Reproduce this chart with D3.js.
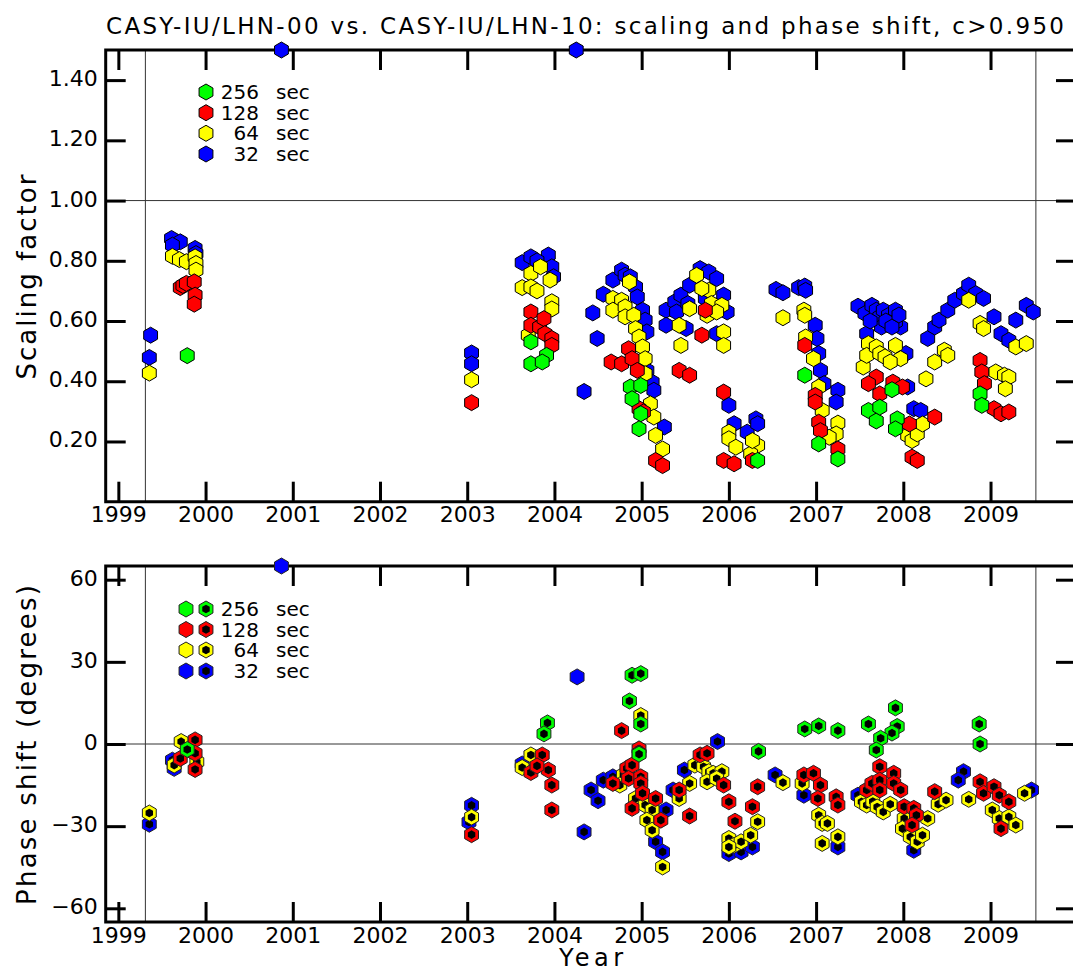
<!DOCTYPE html>
<html>

<head>
    <meta charset="utf-8">
    <title>CASY-IU/LHN-00 vs. CASY-IU/LHN-10</title>
    <script src="https://d3js.org/d3.v7.min.js"></script>
    <style>
        body {
            margin: 0;
            background-color: #ffffff;
        }

        text {
            font-family: "DejaVu Sans", sans-serif;
            fill: #000;
        }

        .tick line {
            stroke: #000;
            stroke-width: 3px;
        }
    </style>
</head>

<body>
    <div id="chart"></div>
    <script>

        // ---- data: [decimal year, value] ----
        var years = [1999, 2000, 2001, 2002, 2003, 2004, 2005, 2006, 2007, 2008, 2009];
        var scaleTicks = [0.2, 0.4, 0.6, 0.8, 1.0, 1.2, 1.4];
        var phaseTicks = [-60, -30, 0, 30, 60];
        var legendLabels = ["256", "128", "64", "32"];
        var legendColors = ["#00ff00", "#ff0000", "#ffff00", "#0000ff"];
        var spanStart = 1999.31, spanEnd = 2009.52;

        var scale32 = [[1999.37, 0.553], [1999.355, 0.479],
        [1999.61, 0.874], [1999.71, 0.863], [1999.62, 0.852], [1999.88, 0.841], [1999.89, 0.824],
        [2000.87, 1.5],
        [2003.05, 0.494], [2003.05, 0.458],
        [2003.63, 0.794], [2003.73, 0.813], [2003.93, 0.819], [2003.97, 0.78], [2003.99, 0.747], [2003.80, 0.80],
        [2004.25, 1.5],
        [2004.44, 0.627], [2004.49, 0.542], [2004.34, 0.366],
        [2004.56, 0.689], [2004.67, 0.736], [2004.77, 0.769], [2004.81, 0.752], [2004.87, 0.747], [2004.93, 0.713], [2004.95, 0.680], [2005.01, 0.636], [2005.04, 0.603], [2005.06, 0.564], [2005.06, 0.436], [2005.12, 0.397], [2005.14, 0.370], [2005.26, 0.248],
        [2005.28, 0.636], [2005.38, 0.664], [2005.40, 0.630], [2005.45, 0.686], [2005.53, 0.658], [2005.55, 0.719], [2005.67, 0.774], [2005.73, 0.675], [2005.77, 0.763], [2005.86, 0.741], [2005.28, 0.586], [2005.51, 0.575], [2005.86, 0.558], [2005.94, 0.686], [2005.98, 0.630],
        [2006.0, 0.320], [2006.06, 0.259], [2006.21, 0.231], [2006.31, 0.275], [2006.33, 0.259],
        [2006.54, 0.705], [2006.62, 0.694], [2006.80, 0.711], [2006.87, 0.716], [2006.88, 0.702], [2006.99, 0.586], [2007.01, 0.542], [2007.03, 0.492], [2007.05, 0.436], [2007.09, 0.392], [2007.25, 0.370], [2007.23, 0.331],
        [2007.48, 0.649], [2007.56, 0.625], [2007.64, 0.652], [2007.69, 0.636], [2007.73, 0.614], [2007.77, 0.636], [2007.83, 0.619], [2007.91, 0.636], [2007.97, 0.580], [2007.91, 0.597], [2007.58, 0.558], [2007.75, 0.580], [2007.62, 0.60], [2007.80, 0.60], [2007.87, 0.58], [2007.95, 0.62],
        [2008.03, 0.492], [2008.05, 0.381], [2008.12, 0.309], [2008.20, 0.303],
        [2008.28, 0.542], [2008.36, 0.580], [2008.41, 0.603], [2008.51, 0.636], [2008.59, 0.669], [2008.69, 0.691], [2008.75, 0.719], [2008.83, 0.691], [2008.92, 0.675], [2009.04, 0.614], [2009.12, 0.558], [2009.21, 0.536], [2009.29, 0.603], [2009.41, 0.652], [2009.49, 0.630]];

        var scale64 = [[1999.355, 0.427],
        [1999.62, 0.815], [1999.70, 0.804], [1999.78, 0.797], [1999.88, 0.813], [1999.89, 0.791], [1999.89, 0.769],
        [2003.05, 0.405],
        [2003.73, 0.758], [2003.63, 0.711], [2003.73, 0.713], [2003.70, 0.553], [2003.84, 0.78], [2003.95, 0.736], [2003.97, 0.664], [2003.97, 0.64], [2003.80, 0.70],
        [2004.86, 0.730], [2004.67, 0.675], [2004.77, 0.669], [2004.67, 0.636], [2004.81, 0.647], [2004.81, 0.614], [2004.91, 0.619], [2004.93, 0.575], [2004.97, 0.547], [2005.01, 0.514], [2005.04, 0.475], [2005.04, 0.425], [2005.10, 0.325], [2005.14, 0.281], [2005.16, 0.220], [2005.24, 0.175],
        [2005.63, 0.752], [2005.43, 0.586], [2005.45, 0.519], [2005.55, 0.641], [2005.77, 0.702], [2005.69, 0.708], [2005.80, 0.658], [2005.75, 0.619], [2005.92, 0.652], [2005.86, 0.630], [2005.94, 0.564], [2005.94, 0.519],
        [2006.0, 0.231], [2006.0, 0.209], [2006.08, 0.181], [2006.33, 0.187], [2006.25, 0.159], [2006.27, 0.203],
        [2006.62, 0.611], [2006.86, 0.636], [2006.87, 0.619], [2006.88, 0.547], [2006.97, 0.475], [2007.03, 0.381], [2007.07, 0.303], [2007.25, 0.261], [2007.23, 0.225], [2007.15, 0.214],
        [2007.60, 0.525], [2007.54, 0.447], [2007.58, 0.486], [2007.69, 0.514], [2007.73, 0.492], [2007.79, 0.481], [2007.91, 0.519], [2007.97, 0.475], [2007.85, 0.464],
        [2008.05, 0.220], [2008.10, 0.203], [2008.16, 0.225], [2008.22, 0.258], [2008.26, 0.408], [2008.36, 0.464], [2008.47, 0.503], [2008.51, 0.486],
        [2008.75, 0.669], [2008.88, 0.592], [2008.92, 0.575], [2009.29, 0.514], [2009.41, 0.525], [2009.06, 0.431], [2009.16, 0.420], [2009.21, 0.414], [2009.17, 0.375]];

        var scale128 = [[1999.71, 0.711], [1999.74, 0.718], [1999.78, 0.725], [1999.87, 0.730], [1999.88, 0.686], [1999.87, 0.656],
        [2003.05, 0.329],
        [2003.73, 0.630], [2003.73, 0.586], [2003.83, 0.58], [2003.88, 0.608], [2003.89, 0.558], [2003.97, 0.542], [2003.97, 0.519],
        [2004.65, 0.464], [2004.77, 0.458], [2004.85, 0.508], [2004.89, 0.475], [2004.95, 0.436], [2004.97, 0.309], [2005.02, 0.298], [2005.16, 0.137], [2005.24, 0.120],
        [2005.43, 0.436], [2005.55, 0.420], [2005.73, 0.636], [2005.69, 0.553],
        [2005.94, 0.364], [2005.94, 0.137], [2006.06, 0.126], [2006.27, 0.137],
        [2006.87, 0.519], [2006.99, 0.353], [2006.99, 0.331], [2007.03, 0.264], [2007.05, 0.236], [2007.25, 0.175],
        [2007.69, 0.414], [2007.60, 0.392], [2007.73, 0.358], [2007.88, 0.397], [2007.99, 0.381], [2008.07, 0.258], [2008.10, 0.148], [2008.16, 0.137], [2008.36, 0.281],
        [2008.88, 0.469], [2008.90, 0.431], [2008.93, 0.392], [2009.04, 0.309], [2009.12, 0.292], [2009.21, 0.298]];

        var scale256 = [[1999.79, 0.485],
        [2003.73, 0.531], [2003.73, 0.458], [2003.91, 0.486], [2003.86, 0.464],
        [2004.87, 0.381], [2004.99, 0.386], [2004.89, 0.342], [2004.99, 0.292], [2004.97, 0.242],
        [2006.33, 0.137],
        [2006.87, 0.420], [2007.03, 0.192], [2007.25, 0.142],
        [2007.60, 0.303], [2007.69, 0.268], [2007.73, 0.314], [2007.87, 0.372], [2007.93, 0.275], [2007.91, 0.242],
        [2008.88, 0.358], [2008.90, 0.320]];

        var phase32 = [[1999.355, -29.3], [1999.62, -5.9], [1999.64, -8.9],
        [2003.05, -22.4], [2003.02, -28.5], [2003.63, -7.3],
        [2004.34, -32.1], [2004.42, -16.8], [2004.50, -20.7], [2004.56, -13.2], [2004.67, -12.0], [2005.28, -24.1], [2005.16, -35.7], [2005.24, -39.4],
        [2005.36, -16.8], [2005.49, -9.5], [2005.87, 0.9],
        [2006.0, -40.0], [2006.14, -39.4], [2006.27, -37.6],
        [2006.53, -11.3], [2006.86, -18.7], [2007.25, -37.6],
        [2007.48, -18.7], [2008.12, -38.8],
        [2008.69, -10.1], [2008.63, -13.2], [2009.47, -16.8]];
        var phase32Solid = [[2000.87, 65], [2004.26, 24.5]];

        var phase64 = [[1999.355, -25.2], [1999.72, 0.9], [1999.64, -7.7], [1999.90, -6.5],
        [2003.05, -26.7], [2003.73, -4.0], [2003.63, -8.6],
        [2004.79, -11.3], [2004.75, -15], [2004.93, -19.9], [2005.04, -22.3], [2005.12, -24.1], [2005.06, -27.8], [2005.12, -31.5], [2005.24, -44.9], [2004.99, 10.4],
        [2005.43, -19.9], [2005.55, -14.4], [2005.61, -7.7], [2005.71, -8.3], [2005.77, -10.1], [2005.82, -10.7], [2005.75, -13.8], [2005.92, -10.1], [2005.86, -12.6],
        [2006.0, -34.5], [2006.06, -37.0], [2006.14, -35.7], [2006.0, -37.6], [2006.25, -33.3], [2006.33, -28.4],
        [2006.62, -14.1], [2006.84, -14.4], [2007.03, -26.0], [2007.07, -29.0], [2007.13, -29.0], [2007.07, -36.3], [2007.25, -33.9],
        [2007.52, -21.1], [2007.58, -22.3], [2007.65, -21], [2007.70, -23], [2007.77, -24.8], [2007.85, -22], [2008.01, -27.2], [2007.99, -30.9], [2008.08, -33.9], [2008.16, -35.7], [2008.22, -33.3], [2008.28, -27.2],
        [2008.40, -22], [2008.49, -20.5], [2008.75, -20.2], [2009.02, -24.1], [2009.10, -27.2], [2009.21, -26.6], [2009.29, -29.6], [2009.39, -18.0]];

        var phase128 = [[1999.88, 1.5], [1999.88, -3.4], [1999.71, -5.3], [1999.88, -9.3],
        [2003.05, -33.1], [2003.73, -10.4], [2003.86, -4.0], [2003.93, -9.5], [2003.97, -15.0], [2003.97, -24.1], [2003.80, -8],
        [2004.77, 4.9], [2004.97, -1.8],
        [2004.67, -14.4], [2004.83, -8.9], [2004.89, -7.7], [2004.85, -12.6], [2004.99, -12.0], [2004.99, -14.4], [2005.01, -18.0], [2004.89, -23.5], [2004.97, -3.4], [2005.16, -19.9], [2005.22, -27.8],
        [2005.43, -16.8], [2005.55, -26.3], [2005.67, -4.0], [2005.75, -3.4], [2005.94, -15.0],
        [2006.0, -21.1], [2006.07, -28.2], [2006.33, -15.6], [2006.27, -22.9],
        [2006.86, -11.3], [2006.97, -10.7], [2007.05, -15.0], [2007.02, -19.9], [2007.23, -19.3], [2007.25, -22.3],
        [2007.58, -16.8], [2007.64, -14.4], [2007.73, -8.3], [2007.73, -13.2], [2007.73, -16.8], [2007.89, -10.7], [2007.89, -14.4], [2007.97, -16.8], [2008.01, -22.9], [2008.12, -23.5], [2008.15, -26.0], [2008.10, -29.6],
        [2008.36, -17.4], [2008.88, -13.8], [2008.92, -18.0], [2009.04, -15.6], [2009.10, -18.7], [2009.21, -21.1], [2009.12, -30.9]];

        var phase256 = [[1999.79, -2.0],
        [2003.92, 7.7], [2003.88, 3.7],
        [2004.89, 25.1], [2004.99, 25.7], [2004.86, 15.7], [2004.99, 7.3], [2004.97, -3.7],
        [2006.34, -2.7],
        [2006.87, 5.5], [2007.03, 6.6], [2007.25, 4.9],
        [2007.60, 7.3], [2007.91, 13.2], [2007.93, 6.4], [2007.87, 4.0], [2007.74, 2.1], [2007.69, -2.2],
        [2008.87, 7.3], [2008.88, 0]];

        // ---- layout ----
        var W = 1073, H = 972;
        var left = 105.7, right = 1076;
        var top1 = 50, bot1 = 501.7;
        var top2 = 566, bot2 = 922;

        var svg = d3.select("#chart").append("svg")
            .attr("width", W)
            .attr("height", H)
            .style("display", "block");

        var x = d3.scaleLinear().domain([1998.855, 2009.98]).range([left, right]);
        var yS = d3.scaleLinear().domain([0, 1.5]).range([bot1, top1]).clamp(true);
        var yP = d3.scaleLinear().domain([-65, 65]).range([bot2, top2]).clamp(true);

        // pointy-top hexagon
        function hex(r) {
            var p = d3.path();
            for (var i = 0; i < 6; i++) {
                var a = Math.PI / 180 * (60 * i - 90);
                if (i == 0) p.moveTo(r * Math.cos(a), r * Math.sin(a));
                else p.lineTo(r * Math.cos(a), r * Math.sin(a));
            }
            p.closePath();
            return p.toString();
        }

        function panel(y, top, bot, ticks, fmt, refValue) {
            var g = svg.append("g");

            // thin reference lines
            g.append("line")
                .attr("x1", left).attr("x2", right)
                .attr("y1", y(refValue)).attr("y2", y(refValue))
                .style("stroke", "#333").style("stroke-width", 1);
            [spanStart, spanEnd].forEach(function (t) {
                g.append("line")
                    .attr("x1", x(t)).attr("x2", x(t))
                    .attr("y1", top).attr("y2", bot)
                    .style("stroke", "#333").style("stroke-width", 1);
            });

            // axes with inward ticks
            var ax = g.append("g").attr("transform", "translate(0," + bot + ")")
                .call(d3.axisBottom(x).tickValues(years).tickSize(-20).tickPadding(5).tickFormat(d3.format("d")));
            ax.select(".domain").remove();
            ax.selectAll("text").style("font-size", "22px");

            var axT = g.append("g").attr("transform", "translate(0," + top + ")")
                .call(d3.axisTop(x).tickValues(years).tickSize(-20).tickFormat(""));
            axT.select(".domain").remove();

            var ay = g.append("g").attr("transform", "translate(" + left + ",0)")
                .call(d3.axisLeft(y).tickValues(ticks).tickSize(-20).tickPadding(8).tickFormat(fmt));
            ay.select(".domain").remove();
            ay.selectAll("text").style("font-size", "22px").attr("dy", "0.25em");

            var ayR = g.append("g").attr("transform", "translate(" + right + ",0)")
                .call(d3.axisRight(y).tickValues(ticks).tickSize(-20).tickFormat(""));
            ayR.select(".domain").remove();

            // frame
            g.append("path")
                .attr("d", "M" + right + "," + top + "H" + left + "V" + bot + "H" + right + "V" + top)
                .style("fill", "none").style("stroke", "#000").style("stroke-width", 3);
            return g;
        }

        panel(yS, top1, bot1, scaleTicks, d3.format(".2f"), 1.0);
        panel(yP, top2, bot2, phaseTicks, d3.format("d"), 0);

        // ---- top panel points ----
        var scaleSeries = [[scale32, "#0000ff"], [scale64, "#ffff00"], [scale128, "#ff0000"], [scale256, "#00ff00"]];
        scaleSeries.forEach(function (s) {
            svg.append("g").selectAll("path")
                .data(s[0]).enter()
                .append("path")
                .attr("d", hex(8))
                .attr("transform", function (d) { return "translate(" + x(d[0]) + "," + yS(d[1]) + ")"; })
                .style("fill", s[1])
                .style("stroke", "#000")
                .style("stroke-width", 1);
        });

        // ---- bottom panel points ----
        var phaseSeries = [[phase32, "#0000ff"], [phase64, "#ffff00"], [phase128, "#ff0000"], [phase256, "#00ff00"]];
        svg.append("g").selectAll("path")
            .data(phase32Solid).enter()
            .append("path")
            .attr("d", hex(8))
            .attr("transform", function (d) { return "translate(" + x(d[0]) + "," + yP(d[1]) + ")"; })
            .style("fill", "#0000ff")
            .style("stroke", "#222")
            .style("stroke-width", 1);
        phaseSeries.forEach(function (s) {
            var pts = svg.append("g").selectAll("g")
                .data(s[0]).enter()
                .append("g")
                .attr("transform", function (d) { return "translate(" + x(d[0]) + "," + yP(d[1]) + ")"; });
            pts.append("path")
                .attr("d", hex(8))
                .style("fill", s[1])
                .style("stroke", "#222")
                .style("stroke-width", 1);
            pts.append("path")
                .attr("d", hex(4.3))
                .style("fill", "#000");
        });

        // ---- legends ----
        var legTop = [92, 112.7, 133.3, 154];
        legendLabels.forEach(function (lab, i) {
            svg.append("path").attr("d", hex(8))
                .attr("transform", "translate(206," + legTop[i] + ")")
                .style("fill", legendColors[i]).style("stroke", "#000").style("stroke-width", 1);
            svg.append("text").attr("x", 259).attr("y", legTop[i] + 7)
                .attr("text-anchor", "end").style("font-size", "20px").text(lab);
            svg.append("text").attr("x", 276).attr("y", legTop[i] + 7)
                .style("font-size", "20px").text("sec");
        });

        var legBot = [609, 629.5, 650, 671];
        legendLabels.forEach(function (lab, i) {
            svg.append("path").attr("d", hex(8))
                .attr("transform", "translate(186," + legBot[i] + ")")
                .style("fill", legendColors[i]).style("stroke", "#222").style("stroke-width", 1);
            svg.append("path").attr("d", hex(8))
                .attr("transform", "translate(206," + legBot[i] + ")")
                .style("fill", legendColors[i]).style("stroke", "#222").style("stroke-width", 1);
            svg.append("path").attr("d", hex(4.3))
                .attr("transform", "translate(206," + legBot[i] + ")")
                .style("fill", "#000");
            svg.append("text").attr("x", 259).attr("y", legBot[i] + 7)
                .attr("text-anchor", "end").style("font-size", "20px").text(lab);
            svg.append("text").attr("x", 276).attr("y", legBot[i] + 7)
                .style("font-size", "20px").text("sec");
        });

        // ---- titles ----
        svg.append("text")
            .attr("x", 585).attr("y", 34)
            .attr("text-anchor", "middle")
            .attr("textLength", 958).attr("lengthAdjust", "spacing")
            .style("font-size", "23px")
            .text("CASY-IU/LHN-00 vs. CASY-IU/LHN-10: scaling and phase shift, c>0.950");

        svg.append("text")
            .attr("transform", "translate(36,277) rotate(-90)")
            .attr("text-anchor", "middle")
            .attr("textLength", 205).attr("lengthAdjust", "spacing")
            .style("font-size", "26px")
            .text("Scaling factor");

        svg.append("text")
            .attr("transform", "translate(36,745) rotate(-90)")
            .attr("text-anchor", "middle")
            .attr("textLength", 320).attr("lengthAdjust", "spacing")
            .style("font-size", "26px")
            .text("Phase shift (degrees)");

        svg.append("text")
            .attr("x", 591).attr("y", 966)
            .attr("text-anchor", "middle")
            .attr("textLength", 64).attr("lengthAdjust", "spacing")
            .style("font-size", "24px")
            .text("Year");

    </script>
</body>

</html>
